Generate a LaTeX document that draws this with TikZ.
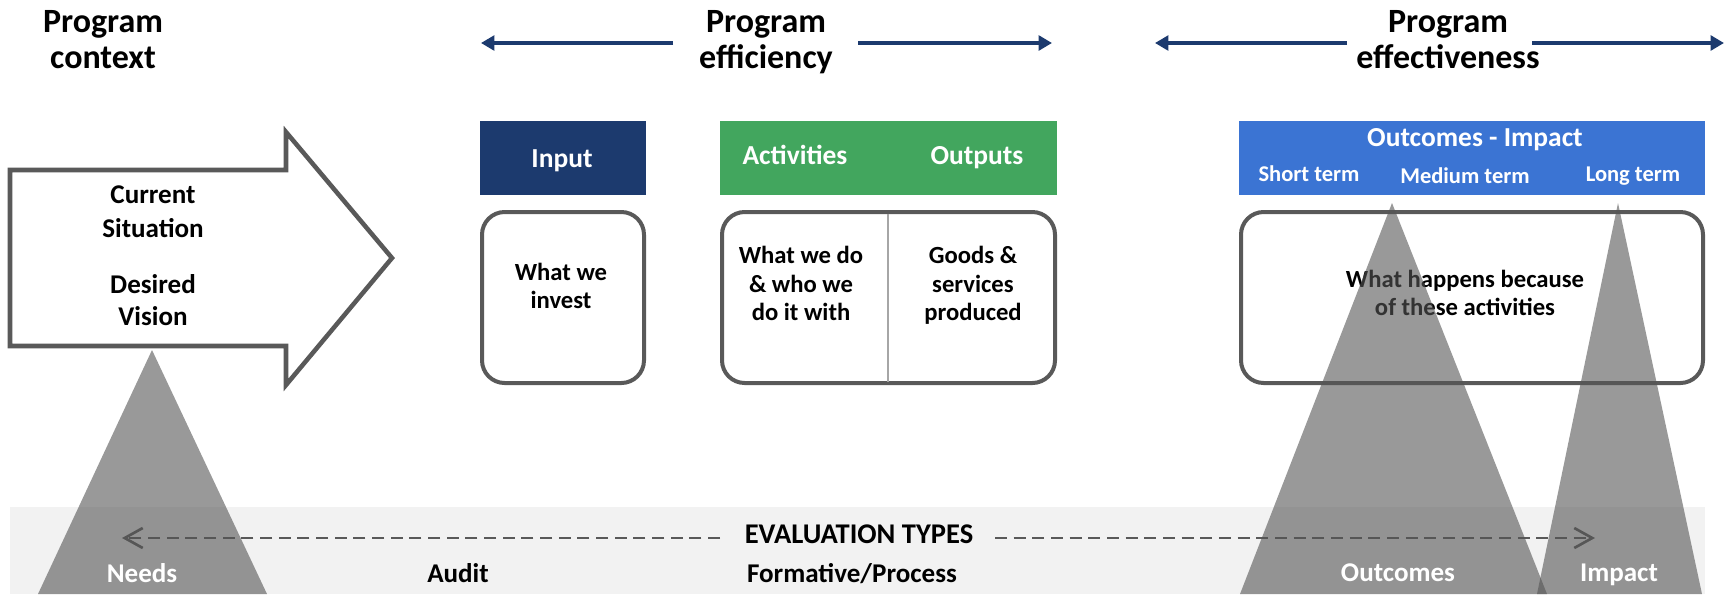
\documentclass[tikz,border=0pt]{standalone}
\usepackage{fontspec}
\setmainfont{Carlito}
\usetikzlibrary{arrows.meta}
\definecolor{navy}{HTML}{1C3A6E}
\definecolor{ggreen}{HTML}{42A65E}
\definecolor{oblue}{HTML}{3B74D3}
\definecolor{bord}{HTML}{595959}
\definecolor{bandc}{HTML}{F2F2F2}
\definecolor{divc}{HTML}{A6A6A6}
\definecolor{trig}{HTML}{555555}
\begin{document}
\begin{tikzpicture}[x=0.75pt,y=-0.75pt,
  txt/.style={inner sep=0pt, anchor=base},
  ttl/.style={txt, font=\bfseries\fontsize{25.5pt}{27pt}\selectfont},
  hdr/.style={txt, text=white, font=\bfseries\fontsize{20.6pt}{22pt}\selectfont},
  sub/.style={txt, text=white, font=\bfseries\fontsize{16.9pt}{18pt}\selectfont},
  body/.style={txt, font=\bfseries\fontsize{18.5pt}{20pt}\selectfont},
  arrtxt/.style={txt, font=\bfseries\fontsize{20.3pt}{22pt}\selectfont},
  lab/.style={txt, font=\bfseries\fontsize{20.3pt}{22pt}\selectfont},
  wlab/.style={lab, text=white},
  navyarrow/.style={navy, line width=2.6pt, -{Triangle[length=10pt,width=11pt]}},
  roundbox/.style={draw=bord, line width=3pt, rounded corners=17pt, fill=white},
  tri/.style={fill=trig, fill opacity=0.6},
  evarrow/.style={bord, line width=2.2pt, dash pattern=on 9pt off 5pt, -{Straight Barb[length=13.5pt,width=15pt,line width=2pt]}}
]
\useasboundingbox (0,0) rectangle (1732,594);

% bottom band
\fill[bandc] (10,507) rectangle (1705,594);

% titles
\node[ttl] (pc1) at (103,32) {Program};
\node[ttl] (pc2) at (103,68) {context};
\node[ttl] (pe1) at (766,32) {Program};
\node[ttl] (pe2) at (766,68) {efficiency};
\node[ttl] (pf1) at (1448,32) {Program};
\node[ttl] (pf2) at (1448,68) {effectiveness};

% navy arrows
\coordinate (ea1) at (673,43); \coordinate (ea2) at (481,43);
\coordinate (eb1) at (858,43); \coordinate (eb2) at (1052,43);
\coordinate (fa1) at (1347,43); \coordinate (fa2) at (1155,43);
\coordinate (fb1) at (1532,43); \coordinate (fb2) at (1724,43);
\draw[navyarrow] (ea1) -- (ea2);
\draw[navyarrow] (eb1) -- (eb2);
\draw[navyarrow] (fa1) -- (fa2);
\draw[navyarrow] (fb1) -- (fb2);

% big arrow
\draw[bord, line width=3.4pt, fill=white, miter limit=10]
  (10,170) -- (286,170) -- (286,132) -- (392,258) -- (286,385) -- (286,346) -- (10,346) -- cycle;
\node[arrtxt] (cur1) at (153,203) {Current};
\node[arrtxt] (cur2) at (153,237) {Situation};
\node[arrtxt] (des1) at (153,293) {Desired};
\node[arrtxt] (des2) at (153,325) {Vision};

% headers
\fill[navy] (480,121) rectangle (646,195);
\fill[ggreen] (720,121) rectangle (1057,195);
\fill[oblue] (1239,121) rectangle (1705,195);
\node[hdr] (hin) at (562,167) {Input};
\node[hdr] (hact) at (795,164) {Activities};
\node[hdr] (hout) at (977,164) {Outputs};
\node[hdr] (hoi) at (1475,146) {Outcomes - Impact};
\node[sub] (hs) at (1309,181) {Short term};
\node[sub] (hm) at (1465,183) {Medium term};
\node[sub] (hl) at (1633,181) {Long term};

% body boxes
\draw[roundbox] (482,212) rectangle (644,383);
\draw[roundbox] (722,212) rectangle (1055,383);
\draw[divc, line width=1.5pt] (888,213.5) -- (888,381.5);
\draw[roundbox] (1241,212) rectangle (1703,383);

\node[body] (in1) at (561,280) {What we};
\node[body] (in2) at (561,308) {invest};
\node[body] (ac1) at (801,263) {What we do};
\node[body] (ac2) at (801,292) {\& who we};
\node[body] (ac3) at (801,320) {do it with};
\node[body] (ou1) at (973,263) {Goods \&};
\node[body] (ou2) at (973,292) {services};
\node[body] (ou3) at (973,320) {produced};
\node[body] (oc1) at (1465,287) {What happens because};
\node[body] (oc2) at (1465,315) {of these activities};

% evaluation types
\node[lab, font=\bfseries\fontsize{21.4pt}{23pt}\selectfont] (ev) at (859,543) {EVALUATION TYPES};
\coordinate (evl) at (720,538); \coordinate (evlt) at (122,538);
\coordinate (evr) at (995,538); \coordinate (evrt) at (1595,538);
\draw[evarrow] (evl) -- (evlt);
\draw[evarrow] (evr) -- (evrt);
\node[lab] (audit) at (458,582) {Audit};
\node[lab] (form) at (852,582) {Formative/Process};

% triangles
\fill[tri] (152,350) -- (267,594) -- (38,594) -- cycle;
\fill[tri] (1392,203) -- (1547,594) -- (1240,594) -- cycle;
\fill[tri] (1618,203) -- (1702,594) -- (1537,594) -- cycle;

\node[wlab] (needs) at (142,582) {Needs};
\node[wlab] (outc) at (1398,581) {Outcomes};
\node[wlab] (imp) at (1619,581) {Impact};
\end{tikzpicture}
\end{document}
